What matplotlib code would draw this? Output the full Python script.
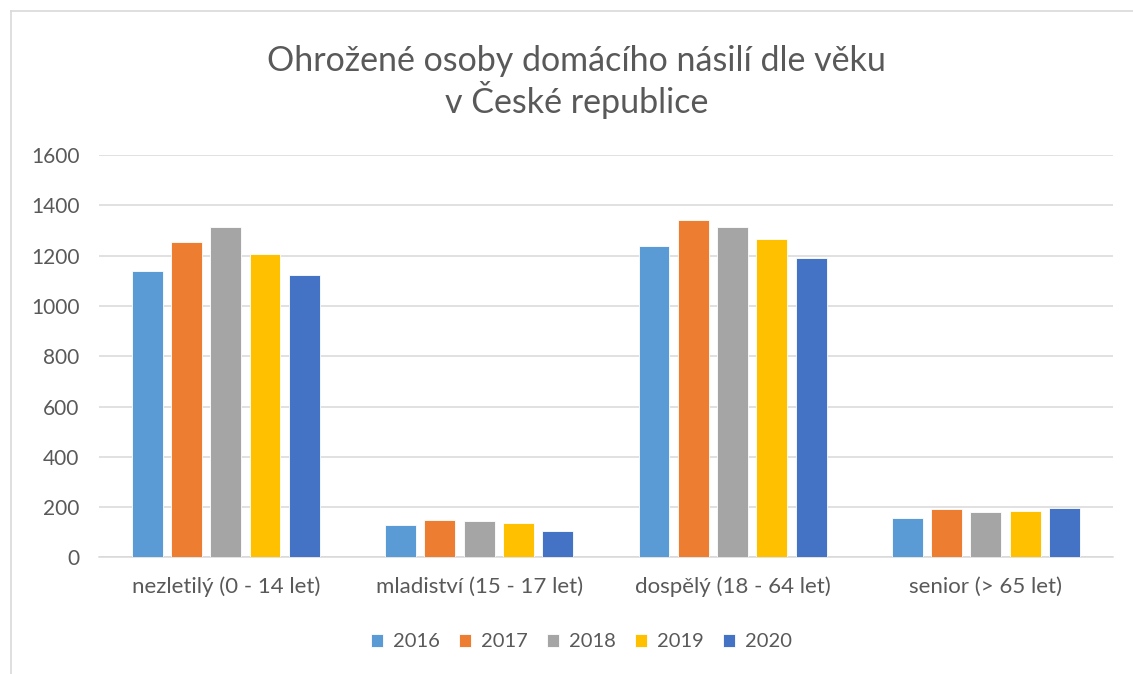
import numpy as np
import matplotlib.pyplot as plt
from matplotlib.lines import Line2D

plt.rcParams['font.family'] = ['Lato', 'DejaVu Sans']

categories = ['nezletilý (0 - 14 let)', 'mladiství (15 - 17 let)',
              'dospělý (18 - 64 let)', 'senior (> 65 let)']
years = ['2016', '2017', '2018', '2019', '2020']
values = {
    '2016': [1138, 127, 1240, 158],
    '2017': [1254, 150, 1342, 192],
    '2018': [1315, 145, 1313, 179],
    '2019': [1208, 137, 1268, 186],
    '2020': [1123, 106, 1191, 196],
}
colors = ['#5B9BD5', '#ED7D31', '#A5A5A5', '#FFC000', '#4472C4']

text_color = '#595959'
grid_color = '#D9D9D9'

fig = plt.figure(figsize=(11.33, 6.74), dpi=100)
ax = fig.add_axes([0.0874, 0.173, 0.8946, 0.597])

x = np.arange(len(categories))
step = 0.155
width = 0.122
for i, year in enumerate(years):
    ax.bar(x + (i - 2) * step, values[year], width, color=colors[i],
           edgecolor='white', linewidth=0.6, label=year, zorder=3)

ax.set_xlim(-0.5, 3.5)
ax.set_ylim(0, 1600)
ax.set_yticks(range(0, 1601, 200))
ax.set_xticks(x)
ax.set_xticklabels(categories)
ax.yaxis.grid(True, color=grid_color, linewidth=1.1, zorder=0)
for side in ['top', 'right', 'left']:
    ax.spines[side].set_visible(False)
ax.spines['bottom'].set_color(grid_color)
ax.spines['bottom'].set_linewidth(1.1)
ax.tick_params(axis='x', length=0, colors=text_color, labelsize=16, pad=14)
ax.tick_params(axis='y', length=0, colors=text_color, labelsize=15, pad=14)

fig.text(0.509, 0.91, 'Ohrožené osoby domácího násilí dle věku',
         ha='center', va='center', fontsize=24.5, color=text_color)
fig.text(0.509, 0.851, 'v České republice',
         ha='center', va='center', fontsize=24.5, color=text_color)

ax.legend(loc='center', bbox_to_anchor=(0.476, -0.21), ncol=5, frameon=False,
          fontsize=14.5, labelcolor=text_color, handlelength=0.6, handleheight=0.6,
          handletextpad=0.5, columnspacing=0.95)

# chart area border (left and top edges visible)
fig.add_artist(Line2D([11 / 1133, 11 / 1133], [0, 1 - 11 / 674],
                      transform=fig.transFigure, color=grid_color, linewidth=1.2))
fig.add_artist(Line2D([11 / 1133, 1], [1 - 11 / 674, 1 - 11 / 674],
                      transform=fig.transFigure, color=grid_color, linewidth=1.2))

fig.savefig('out.png', dpi=100)
